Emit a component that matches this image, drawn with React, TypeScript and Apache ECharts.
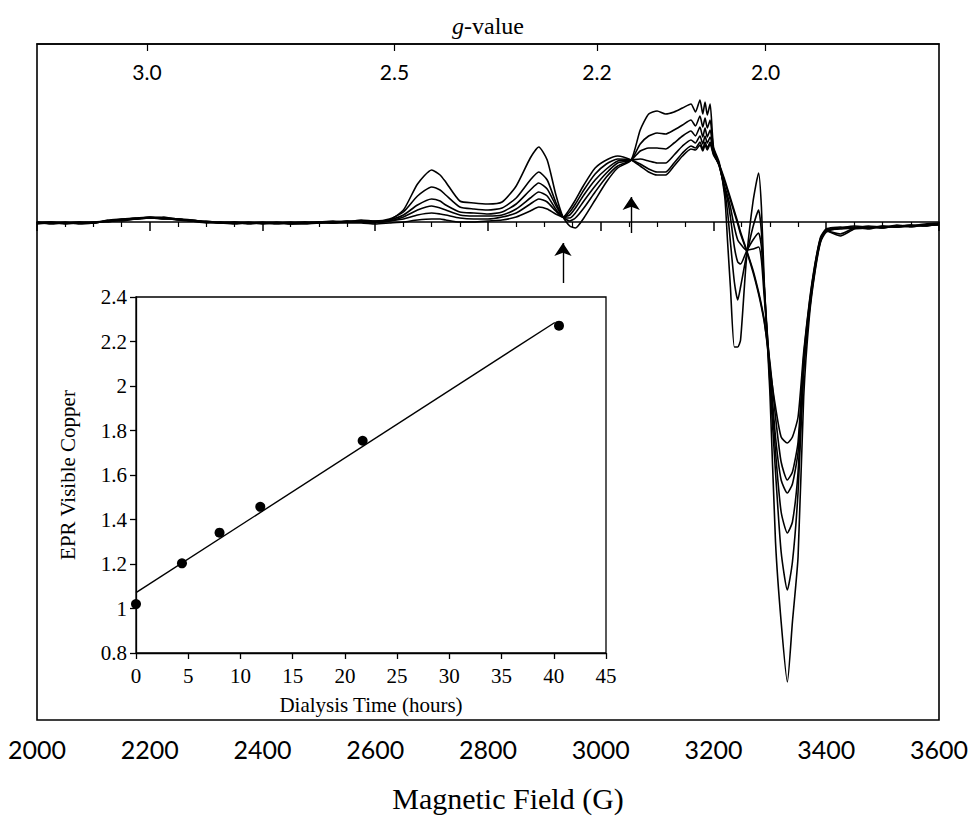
import React, { useEffect, useRef } from 'react';
import * as echarts from 'echarts';

// ---------- EPR spectra (magnetic field in gauss, intensity in arbitrary units) ----------
const fieldG = [
  2000, 2025, 2050, 2075, 2100, 2125, 2150, 2175, 2200, 2225, 2250, 2275, 2300, 2325, 2350, 2375,
  2400, 2425, 2450, 2475, 2500, 2525, 2550, 2575, 2600,
  2625, 2650, 2675, 2700,
  2715, 2725, 2750, 2775, 2800, 2825, 2850, 2875,
  2890, 2905, 2920, 2933, 2945, 2955, 2970, 2990, 3010, 3030, 3054,
  3070, 3085, 3100, 3115, 3130, 3145, 3160,
  3168, 3176, 3181, 3185, 3189, 3194, 3200,
  3210, 3220, 3225, 3230, 3237, 3243, 3248, 3258,
  3270, 3280, 3285, 3290, 3300,
  3310, 3320, 3331, 3340, 3350, 3360, 3370, 3380, 3390, 3400,
  3425, 3450, 3475, 3500, 3525, 3550, 3575, 3600,
];

const specA = [
  -1, 0, -2, -1, 0, 1, 2, 3, 4, 4, 3, 1, 0, -1, 0, -1, -1, 0, -2, -1, 0, 1, 0, 2, 1,
  2, 12, 38, 52,
  47, 40, 21, 19, 18, 20, 36, 64,
  75, 62, 28, 5, -4, -6, 4, 22, 40, 54, 62,
  92, 108, 111, 108, 110, 114, 118,
  110, 122, 108, 120, 107, 118, 75,
  60, 25, -20, -65, -125, -125, -118, -40,
  20, 49, 15, -60, -170,
  -320, -400, -460, -400, -335, -175, -95, -50, -20, -10,
  -6, -5, -7, -4, -5, -3, -4, -2,
];
const specB = [
  0, -1, -1, 0, -1, 2, 3, 4, 5, 3, 3, 2, 0, 0, -1, -1, 0, -1, -1, 0, -1, 0, 1, 1, 1,
  3, 10, 26, 35,
  32, 27, 15, 13, 12, 14, 24, 42,
  50, 42, 20, 5, 1, 4, 14, 30, 45, 56, 62,
  78, 86, 89, 88, 92, 97, 102,
  96, 106, 95, 104, 94, 102, 73,
  58, 30, 10, -20, -60, -78, -65, -35,
  -5, 12, -10, -65, -160,
  -250, -330, -368, -340, -270, -150, -90, -48, -19, -9,
  -12, -6, -5, -6, -4, -4, -3, -3,
];
const specC = [
  -1, -1, 0, -2, -1, 1, 2, 4, 4, 5, 2, 1, 1, -1, -1, 0, -2, -1, 0, -1, 0, -1, 1, 0, 0,
  2, 7, 17, 23,
  21, 17, 10, 9, 8, 10, 18, 32,
  39, 33, 17, 5, 4, 9, 21, 36, 49, 59, 62,
  71, 74, 74, 73, 79, 86, 91,
  86, 95, 85, 94, 85, 92, 71,
  57, 33, 22, 5, -25, -40, -42, -30,
  -18, -11, -25, -65, -150,
  -230, -290, -311, -300, -250, -145, -88, -46, -18, -9,
  -14, -7, -6, -5, -5, -4, -2, -1,
];
const specD = [
  0, -2, -1, -1, 0, 0, 3, 3, 5, 4, 2, 2, 0, -1, 0, -2, -1, -1, -1, 0, -1, 0, 0, 1, 0,
  1, 5, 12, 16,
  14, 12, 7, 6, 6, 7, 13, 24,
  30, 26, 13, 5, 7, 14, 27, 42, 53, 61, 62,
  63, 61, 59, 59, 67, 76, 82,
  79, 86, 78, 86, 79, 85, 70,
  56, 35, 26, 15, -5, -18, -22, -28,
  -27, -25, -38, -75, -145,
  -215, -258, -271, -262, -230, -140, -85, -45, -17, -8,
  -6, -4, -5, -6, -3, -5, -3, -2,
];
const specE = [
  -1, 0, -1, -1, -1, 1, 2, 3, 4, 4, 3, 1, -1, 0, -1, -1, -1, -2, -1, -1, 0, -1, 0, 0, -1,
  1, 3, 7, 9,
  8, 7, 4, 3, 3, 5, 9, 18,
  23, 20, 11, 5, 10, 18, 32, 48, 58, 63, 62,
  58, 53, 50, 50, 59, 69, 76,
  74, 80, 73, 80, 74, 80, 68,
  57, 40, 31, 22, 9, -2, -12, -28,
  -50, -72, -85, -100, -140,
  -195, -240, -258, -250, -220, -135, -82, -43, -16, -8,
  -7, -6, -4, -5, -4, -3, -4, -2,
];
const specF = [
  -2, -1, -1, 0, -1, 1, 1, 3, 4, 3, 3, 1, 0, -1, -2, -1, -1, -1, -2, -2, -1, -1, -1, -1, -2,
  -1, 0, 2, 3,
  3, 2, 0, 0, 1, 2, 5, 11,
  15, 13, 8, 5, 13, 22, 37, 54, 62, 66, 62,
  56, 50, 47, 47, 56, 66, 73,
  72, 77, 71, 77, 72, 78, 67,
  58, 42, 33, 24, 11, 0, -10, -27,
  -48, -70, -83, -98, -145,
  -185, -215, -221, -215, -195, -130, -80, -42, -15, -7,
  -5, -6, -6, -4, -5, -4, -3, -3,
];
const spectra = [specA, specB, specC, specD, specE, specF];

// intensity range of the hidden vertical axis
const intensityMin = -498;
const intensityMax = 178;

// ---------- g-value scale (top axis) ----------
const gTickValues = [3.0, 2.5, 2.2, 2.0];
const microwaveGHz = 9.2165;
const fieldTimesG = 714.477 * microwaveGHz; // B (G) = 714.477 * nu(GHz) / g

// ---------- arrows ----------
const arrowFields = [2933, 3054];
const arrowTails = [-61, -11];
const arrowHeads = [-21, 25];

// ---------- inset: EPR visible copper vs dialysis time ----------
const dialysisHours = [0, 4.4, 8.0, 11.9, 21.7, 40.5];
const eprCopper = [1.02, 1.203, 1.341, 1.457, 1.754, 2.271];
const fitEndHours = 40.1;

function linearFit(xs: number[], ys: number[]) {
  const n = xs.length;
  const mx = xs.reduce((a, b) => a + b, 0) / n;
  const my = ys.reduce((a, b) => a + b, 0) / n;
  let sxx = 0;
  let sxy = 0;
  for (let i = 0; i < n; i++) {
    sxx += (xs[i] - mx) * (xs[i] - mx);
    sxy += (xs[i] - mx) * (ys[i] - my);
  }
  const slope = sxy / sxx;
  return { slope, intercept: my - slope * mx };
}

const serif = 'Liberation Serif';
const humanist = 'Lato';

export default function App() {
  const ref = useRef<HTMLDivElement>(null);

  useEffect(() => {
    if (!ref.current) return;
    const chart = echarts.init(ref.current, undefined, { renderer: 'svg' });

    const gTickFields = gTickValues.map((g) => fieldTimesG / g);
    const fit = linearFit(dialysisHours, eprCopper);

    const spectraSeries = spectra.map((vals, k) => ({
      name: 'spectrum ' + (k + 1),
      type: 'line',
      xAxisIndex: 0,
      yAxisIndex: 0,
      data: fieldG.map((f, i) => [f, vals[i]]),
      showSymbol: false,
      smooth: 0.2,
      lineStyle: { color: '#000', width: 1.6 },
      z: 2,
    }));

    const option: any = {
      animation: false,
      backgroundColor: '#fff',
      grid: [
        {
          left: 37, right: 31, top: 44, bottom: 100,
          show: true, borderColor: '#000', borderWidth: 1.6,
          backgroundColor: 'transparent',
        },
        {
          left: 136, right: 365, top: 297, bottom: 167,
          show: true, borderColor: '#000', borderWidth: 1.3,
          backgroundColor: '#fff',
        },
      ],
      xAxis: [
        {
          gridIndex: 0, type: 'value', position: 'bottom',
          min: 2000, max: 3600, interval: 200,
          axisLine: { show: true, lineStyle: { color: '#000', width: 1.6 } },
          axisTick: { show: true, length: 9, lineStyle: { color: '#000', width: 1.5 } },
          minorTick: { show: true, splitNumber: 4, length: 5, lineStyle: { color: '#000', width: 1.2 } },
          splitLine: { show: false },
          axisLabel: {
            color: '#000', fontSize: 25, fontFamily: humanist, margin: 16,
            formatter: (v: number) => String(v),
          },
          name: 'Magnetic Field (G)', nameLocation: 'middle', nameGap: 63,
          nameTextStyle: { color: '#000', fontSize: 30, fontFamily: serif, padding: [0, 0, 0, 40] },
        },
        {
          gridIndex: 0, type: 'value', position: 'top',
          min: 2000, max: 3600,
          axisLine: { show: true, lineStyle: { color: '#000', width: 1.6 } },
          axisTick: { show: true, inside: true, length: 7, customValues: gTickFields, lineStyle: { color: '#000', width: 1.2 } },
          axisLabel: {
            show: true, inside: true, customValues: gTickFields, margin: 17,
            color: '#000', fontSize: 21, fontFamily: humanist,
            formatter: (v: number) => (fieldTimesG / v).toFixed(1),
          },
          splitLine: { show: false },
          name: '{i|g}-value', nameLocation: 'middle', nameGap: 6,
          nameTextStyle: {
            color: '#000', fontSize: 24, fontFamily: serif,
            rich: { i: { fontStyle: 'italic', fontSize: 24, fontFamily: serif, color: '#000' } },
          },
        },
        {
          gridIndex: 1, type: 'value', position: 'bottom',
          min: 0, max: 45, interval: 5,
          axisLine: { show: true, lineStyle: { color: '#000', width: 1.3 } },
          axisTick: { show: true, length: 6, lineStyle: { color: '#000', width: 1.3 } },
          splitLine: { show: false },
          axisLabel: { color: '#000', fontSize: 21, fontFamily: serif, margin: 12 },
          name: 'Dialysis Time (hours)', nameLocation: 'middle', nameGap: 41,
          nameTextStyle: { color: '#000', fontSize: 21, fontFamily: serif },
        },
      ],
      yAxis: [
        {
          gridIndex: 0, type: 'value', show: false,
          min: intensityMin, max: intensityMax,
          splitLine: { show: false },
        },
        {
          gridIndex: 1, type: 'value',
          min: 0.8, max: 2.4, interval: 0.2,
          axisLine: { show: true, lineStyle: { color: '#000', width: 1.3 } },
          axisTick: { show: true, length: 6, lineStyle: { color: '#000', width: 1.3 } },
          splitLine: { show: false },
          axisLabel: {
            color: '#000', fontSize: 21, fontFamily: serif, margin: 9,
            formatter: (v: number) => String(+v.toFixed(1)),
          },
          name: 'EPR Visible Copper', nameLocation: 'middle', nameGap: 58,
          nameTextStyle: { color: '#000', fontSize: 21, fontFamily: serif },
        },
      ],
      series: [
        ...spectraSeries,
        {
          name: 'arrows',
          type: 'lines',
          coordinateSystem: 'cartesian2d',
          xAxisIndex: 0,
          yAxisIndex: 0,
          symbol: ['none', 'arrow'],
          symbolSize: [7, 13],
          lineStyle: { color: '#000', width: 1.4, opacity: 1 },
          data: arrowFields.map((f, i) => ({ coords: [[f, arrowTails[i]], [f, arrowHeads[i]]] })),
          z: 3,
        },
        {
          name: 'fit',
          type: 'line',
          xAxisIndex: 2,
          yAxisIndex: 1,
          data: [
            [0, fit.intercept],
            [fitEndHours, fit.intercept + fit.slope * fitEndHours],
          ],
          showSymbol: false,
          lineStyle: { color: '#000', width: 1.4 },
          z: 5,
        },
        {
          name: 'EPR visible copper',
          type: 'scatter',
          xAxisIndex: 2,
          yAxisIndex: 1,
          data: dialysisHours.map((h, i) => [h, eprCopper[i]]),
          symbol: 'circle',
          symbolSize: 10,
          itemStyle: { color: '#000', opacity: 1 },
          z: 6,
        },
      ],
    };

    chart.setOption(option);
    return () => chart.dispose();
  }, []);

  return (
    <div
      ref={ref}
      style={{ position: 'fixed', left: 0, top: 0, width: 971, height: 820, background: '#fff' }}
    />
  );
}
